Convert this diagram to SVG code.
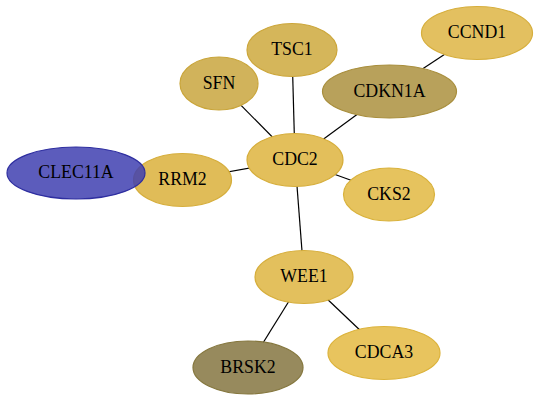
<svg xmlns="http://www.w3.org/2000/svg" width="540" height="401" viewBox="0 0 540 401">
<style>
.e{stroke:#000;stroke-width:1.2;fill:none}
.n{stroke-width:1.2}
.t{font-family:"Liberation Serif","Times New Roman",serif;font-size:17.8px;text-anchor:middle;dominant-baseline:central;fill:#000}
</style>
<rect width="540" height="401" fill="#fff"/>
<g id="edges">
<line class="e" x1="219" y1="83" x2="295" y2="160"/>
<line class="e" x1="292" y1="50" x2="295" y2="160"/>
<line class="e" x1="389" y1="91" x2="295" y2="160"/>
<line class="e" x1="477" y1="33" x2="389" y2="91"/>
<line class="e" x1="183" y1="180" x2="295" y2="160"/>
<line class="e" x1="389" y1="194" x2="295" y2="160"/>
<line class="e" x1="295" y1="160" x2="304" y2="277"/>
<line class="e" x1="304" y1="277" x2="248" y2="367"/>
<line class="e" x1="304" y1="277" x2="384" y2="353"/>
</g>
<g id="CCND1"><ellipse class="n" cx="477" cy="33" rx="55.5" ry="26.5" fill="#e3c060" stroke="#d6ae3c"/><text class="t" x="477" y="32">CCND1</text></g>
<g id="TSC1"><ellipse class="n" cx="292" cy="50" rx="45" ry="26.5" fill="#d5b65a" stroke="#cca63a"/><text class="t" x="292" y="49">TSC1</text></g>
<g id="SFN"><ellipse class="n" cx="219" cy="83.5" rx="39" ry="26.5" fill="#d1b35b" stroke="#c9a53a"/><text class="t" x="219" y="82.5">SFN</text></g>
<g id="CDKN1A"><ellipse class="n" cx="389.5" cy="91.5" rx="67" ry="26.5" fill="#b8a15b" stroke="#a88e3c"/><text class="t" x="389.5" y="90.5">CDKN1A</text></g>
<g id="CDC2"><ellipse class="n" cx="295" cy="160" rx="48" ry="26.5" fill="#e3bf5b" stroke="#d6ae3c"/><text class="t" x="295" y="159">CDC2</text></g>
<g id="RRM2"><ellipse class="n" cx="182.5" cy="180" rx="49" ry="26.5" fill="#e0bc58" stroke="#d6ae3c"/><text class="t" x="182.5" y="179">RRM2</text></g>
<g id="CLEC11A"><ellipse class="n" cx="76" cy="173" rx="69" ry="26" fill="#3f3fb0" fill-opacity="0.85" stroke="#2e2ea0"/><text class="t" x="76" y="171.5">CLEC11A</text></g>
<g id="CKS2"><ellipse class="n" cx="389" cy="194.5" rx="45.5" ry="26.5" fill="#e6c35e" stroke="#d9b23c"/><text class="t" x="389" y="193.5">CKS2</text></g>
<g id="WEE1"><ellipse class="n" cx="304" cy="277" rx="49" ry="26.5" fill="#e3c05d" stroke="#d6ae3c"/><text class="t" x="304" y="276">WEE1</text></g>
<g id="BRSK2"><ellipse class="n" cx="248" cy="367.5" rx="55" ry="26.5" fill="#978a5d" stroke="#85773e"/><text class="t" x="248" y="366.5">BRSK2</text></g>
<g id="CDCA3"><ellipse class="n" cx="384" cy="353" rx="56" ry="26.5" fill="#e8c45e" stroke="#dcb33c"/><text class="t" x="384" y="352">CDCA3</text></g>
</svg>
